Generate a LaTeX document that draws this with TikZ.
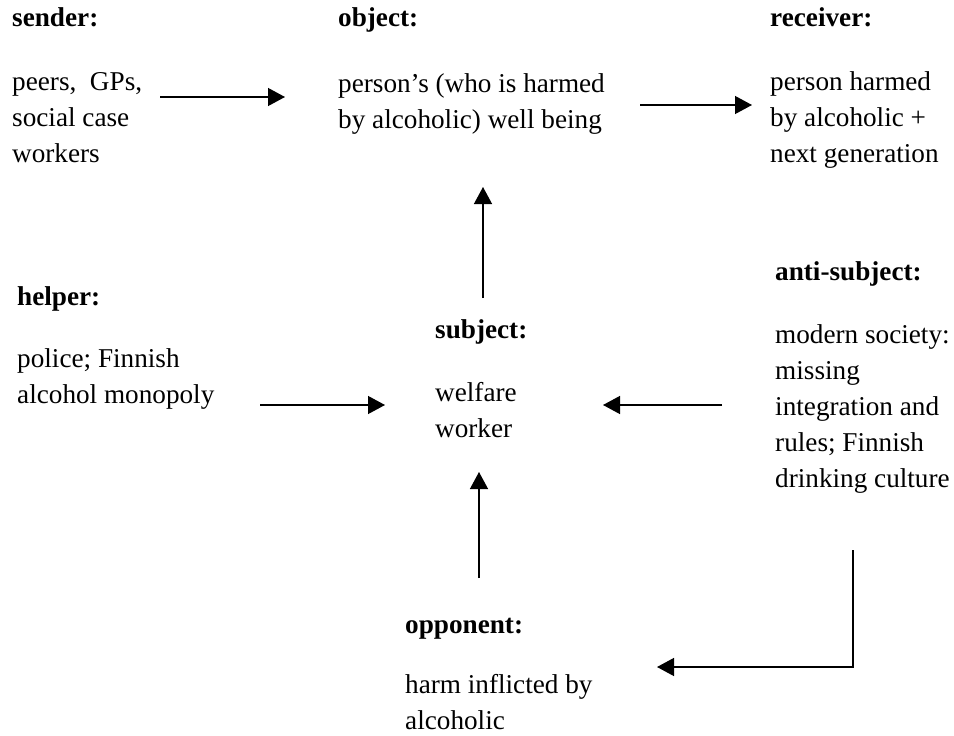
\documentclass[tikz,border=0pt]{standalone}
\usepackage{fontspec}
\setmainfont{Liberation Serif}
\usetikzlibrary{arrows.meta}

\begin{document}
\begin{tikzpicture}[
    x=1pt, y=-1pt,
    headlabel/.style={anchor=base west, inner sep=0pt, font=\fontsize{27.2}{36}\selectfont\bfseries},
    % multi-line labels: base is the last line
    bodylabel/.style={anchor=base west, inner sep=0pt, align=left, font=\fontsize{27.2}{35.8}\selectfont},
    actarrow/.style={line width=1.3pt, -{Triangle[length=17pt, width=18pt]}}
]
    \useasboundingbox (0,0) rectangle (954,736);

    % Top row: sender, object, receiver
    \node[headlabel] (sendhead) at (12,27) {sender:};
    \node[bodylabel] (sender) at (12,162) {peers,\ \ GPs,\\social case\\workers};
    \node[headlabel] (objhead) at (338,27) {object:};
    \node[bodylabel] (object) at (338,128) {person’s (who is harmed\\by alcoholic) well being};
    \node[headlabel] (recvhead) at (770,27) {receiver:};
    \node[bodylabel] (receiver) at (770,162) {person harmed\\by alcoholic +\\next generation};

    % Middle row: helper, subject, anti-subject
    \node[headlabel] (helphead) at (17,305) {helper:};
    \node[bodylabel] (helper) at (17,403) {police; Finnish\\alcohol monopoly};
    \node[headlabel] (subjhead) at (435,338) {subject:};
    \node[bodylabel] (subject) at (435,437) {welfare\\worker};
    \node[headlabel] (antihead) at (775,280) {anti-subject:};
    \node[bodylabel] (anti) at (775,487) {modern society:\\missing\\integration and\\rules; Finnish\\drinking culture};

    % Bottom: opponent
    \node[headlabel] (opphead) at (405,633) {opponent:};
    \node[bodylabel] (opponent) at (405,729) {harm inflicted by\\alcoholic};

    % Arrow ends
    \coordinate (sendout) at (160,97);
    \coordinate (objin) at (285,97);
    \coordinate (objout) at (640,105);
    \coordinate (recvin) at (752,105);
    \coordinate (subjup) at (483,298);
    \coordinate (objbelow) at (483,187);
    \coordinate (helpout) at (260,405);
    \coordinate (subjleft) at (385,405);
    \coordinate (antiout) at (722,405);
    \coordinate (subjright) at (603,405);
    \coordinate (oppout) at (479,578);
    \coordinate (subjbelow) at (479,472);
    \coordinate (antibelow) at (853,550);
    \coordinate (oppright) at (657,667);

    % Arrows
    \draw[actarrow] (sendout) -- (objin);
    \draw[actarrow] (objout) -- (recvin);
    \draw[actarrow] (subjup) -- (objbelow);
    \draw[actarrow] (helpout) -- (subjleft);
    \draw[actarrow] (antiout) -- (subjright);
    \draw[actarrow] (oppout) -- (subjbelow);
    \draw[actarrow] (antibelow) |- (oppright);
\end{tikzpicture}
\end{document}
